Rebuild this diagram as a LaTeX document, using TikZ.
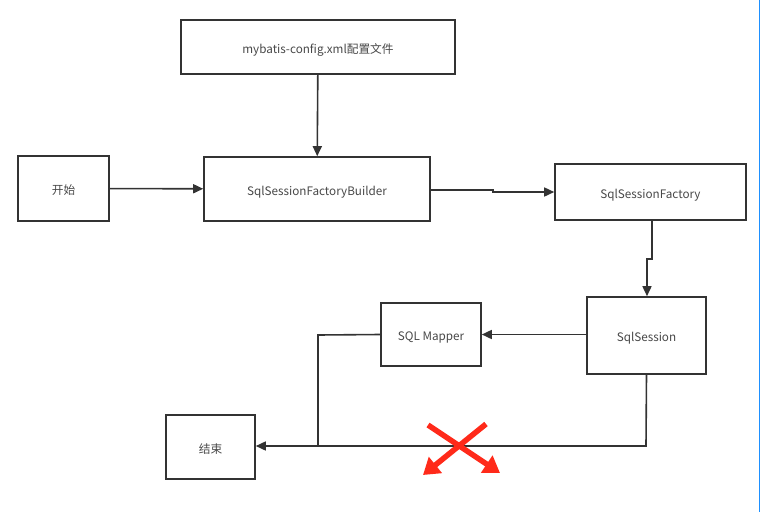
\documentclass[tikz,border=0pt]{standalone}
\usepackage{fontspec}
\setmainfont{Noto Sans CJK SC}
\usetikzlibrary{arrows.meta}
\definecolor{ln}{HTML}{333333}
\definecolor{tx}{HTML}{484848}
\definecolor{xr}{HTML}{FF2A1A}
\begin{document}
\begin{tikzpicture}[x=1pt,y=-1pt,
  box/.style={draw=ln,line width=1.6pt,fill=white,inner sep=0pt,text=tx,text height=12pt,text depth=0pt,font=\fontsize{11.7}{14}\selectfont},
  conn/.style={draw=ln,line width=1.6pt,-{Triangle[length=10pt,width=9pt]}},
  plain/.style={draw=ln,line width=1.6pt},
  redarrow/.style={draw=xr,line width=5.5pt,-{Triangle[length=16pt,width=20pt]}}]
\useasboundingbox (0,0) rectangle (761,512);
\fill[white] (0,0) rectangle (761,512);
\draw[color={rgb,255:red,30;green,144;blue,255},line width=1pt] (759.5,0) -- (759.5,512);
\node[box,minimum width=274pt,minimum height=54pt] (cfg) at (318,47) {mybatis-config.xml配置文件};
\node[box,minimum width=91pt,minimum height=65pt] (start) at (63.5,188.5) {开始};
\node[box,minimum width=226pt,minimum height=64pt] (bld) at (317,189) {SqlSessionFactoryBuilder};
\node[box,minimum width=191pt,minimum height=56pt] (fac) at (650.5,192) {SqlSessionFactory};
\node[box,minimum width=119pt,minimum height=77pt] (ses) at (646.5,335.5) {SqlSession};
\node[box,minimum width=100pt,minimum height=63pt] (map) at (431,334.5) {SQL Mapper};
\node[box,minimum width=89pt,minimum height=64pt] (end) at (210.5,447) {结束};
\coordinate (b1) at (493,190);
\coordinate (b2) at (493,192);
\coordinate (f1) at (652,259);
\coordinate (f2) at (647,259);
\coordinate (m1) at (318,335);
\coordinate (m2) at (318,446);
\coordinate (s1) at (646,446);
\draw[conn] (cfg) -- (bld);
\draw[conn] (start) -- (bld);
\draw[conn] (bld.east |- b1) -- (b1) -- (b2) -- (fac.west |- b2);
\draw[conn] (fac.south -| f1) -- (f1) -- (f2) -- (ses.north -| f2);
\draw[conn] (ses.west |- map.east) -- (map.east);
\draw[plain] (map.west) -- (m1) -- (m2);
\draw[conn] (ses.south) -- (s1) -- (end.east |- s1);
\coordinate (ra1) at (486,424);
\coordinate (ra2) at (423,475);
\coordinate (rb1) at (428,425);
\coordinate (rb2) at (500,473);
\draw[redarrow] (ra1) -- (ra2);
\draw[redarrow] (rb1) -- (rb2);
\end{tikzpicture}
\end{document}
